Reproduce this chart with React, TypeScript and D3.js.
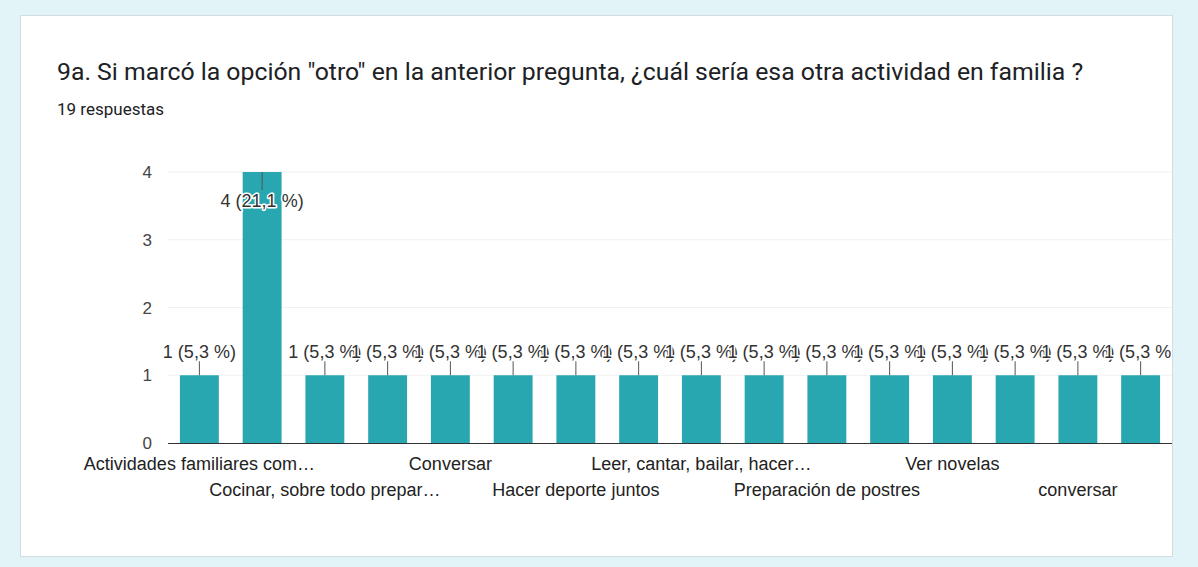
import React, { useEffect, useRef } from "react";
import * as d3 from "d3";

const categories: string[] = [
  "Actividades familiares comunitarias",
  "Cocinar",
  "Cocinar, sobre todo preparar postres",
  "Compartir juegos de mesa",
  "Conversar",
  "Hacer aseo juntos",
  "Hacer deporte juntos",
  "Jugar",
  "Leer, cantar, bailar, hacer manualidades",
  "Manualidades",
  "Preparación de postres",
  "Salir a caminar",
  "Ver novelas",
  "Ver películas",
  "conversar",
  "jugar",
];
const counts: number[] = [1, 4, 1, 1, 1, 1, 1, 1, 1, 1, 1, 1, 1, 1, 1, 1];
const totalResponses = 19;
const yTicks: number[] = [0, 1, 2, 3, 4];
const title =
  '9a. Si marcó la opción "otro" en la anterior pregunta, ¿cuál sería esa otra actividad en familia ?';
const subtitle = "19 respuestas";

const W = 1198;
const H = 567;

export default function App() {
  const ref = useRef<SVGSVGElement>(null);

  useEffect(() => {
    const svg = d3.select(ref.current!);
    svg.selectAll("*").remove();

    svg.append("rect").attr("width", W).attr("height", H).attr("fill", "#e2f4f7");
    svg
      .append("rect")
      .attr("x", 20.5)
      .attr("y", 15.5)
      .attr("width", 1152)
      .attr("height", 541)
      .attr("fill", "#ffffff")
      .attr("stroke", "#d3dde0");

    svg
      .append("text")
      .attr("x", 57)
      .attr("y", 80)
      .attr("font-family", "Roboto")
      .attr("font-size", 24.8)
      .attr("fill", "#202124")
      .text(title);
    svg
      .append("text")
      .attr("x", 57)
      .attr("y", 115)
      .attr("font-family", "Roboto")
      .attr("font-size", 17)
      .attr("fill", "#202124")
      .text(subtitle);

    const left = 168;
    const right = 1172;
    const top = 172;
    const bottom = 443;

    const x = d3
      .scaleBand<string>()
      .domain(categories)
      .range([left, right])
      .paddingInner(0.38)
      .paddingOuter(0.19);
    const y = d3.scaleLinear().domain([0, 4]).range([bottom, top]);

    const g = svg.append("g");
    const font = "'Liberation Sans', Arial, sans-serif";
    const fs = 18;

    g.selectAll("line.grid")
      .data(yTicks.filter((t) => t > 0))
      .enter()
      .append("line")
      .attr("x1", left)
      .attr("x2", right)
      .attr("y1", (d) => y(d))
      .attr("y2", (d) => y(d))
      .attr("stroke", "#f1f1f1");

    g.selectAll("text.ytick")
      .data(yTicks)
      .enter()
      .append("text")
      .attr("x", 152)
      .attr("y", (d) => y(d) + 6)
      .attr("text-anchor", "end")
      .attr("font-family", font)
      .attr("font-size", 17)
      .attr("fill", "#444")
      .text((d) => String(d));

    g.selectAll("rect.bar")
      .data(categories)
      .enter()
      .append("rect")
      .attr("x", (d) => x(d)!)
      .attr("width", x.bandwidth())
      .attr("y", (d, i) => y(counts[i]))
      .attr("height", (d, i) => bottom - y(counts[i]))
      .attr("fill", "#28a7b0");

    g.append("line")
      .attr("x1", left)
      .attr("x2", right)
      .attr("y1", bottom + 0.5)
      .attr("y2", bottom + 0.5)
      .attr("stroke", "#333");

    const defs = svg.append("defs");
    defs
      .append("clipPath")
      .attr("id", "plotclip")
      .append("rect")
      .attr("x", 0)
      .attr("y", 0)
      .attr("width", right - 1)
      .attr("height", H);

    const ann = g.append("g").attr("clip-path", "url(#plotclip)");
    categories.forEach((c, i) => {
      const cx = x(c)! + x.bandwidth() / 2;
      const v = counts[i];
      const barTop = y(v);
      const inside = v === 4;
      const labelY = inside ? barTop + 35 : barTop - 17;
      const pct = ((v / totalResponses) * 100).toFixed(1).replace(".", ",");
      ann
        .append("line")
        .attr("x1", cx)
        .attr("x2", cx)
        .attr("y1", inside ? barTop : barTop - 14)
        .attr("y2", inside ? barTop + 18 : barTop)
        .attr("stroke", "#555")
        .attr("stroke-width", 1);
      ann
        .append("text")
        .attr("x", cx)
        .attr("y", labelY)
        .attr("text-anchor", "middle")
        .attr("font-family", font)
        .attr("font-size", fs)
        .attr("fill", "#333")
        .attr("stroke", "#ffffff")
        .attr("stroke-width", 3)
        .attr("stroke-linejoin", "round")
        .attr("paint-order", "stroke")
        .text(`${v} (${pct} %)`);
    });

    const maxW = 236;
    categories.forEach((c, i) => {
      if (i % 2 !== 0) return;
      const cx = x(c)! + x.bandwidth() / 2;
      const row = (i / 2) % 2;
      const t = g
        .append("text")
        .attr("x", cx)
        .attr("y", row === 0 ? 470 : 496)
        .attr("text-anchor", "middle")
        .attr("font-family", font)
        .attr("font-size", fs)
        .attr("fill", "#222")
        .text(c);
      const node = t.node() as SVGTextElement;
      if (node.getComputedTextLength() > maxW) {
        let n = c.length;
        while (n > 1) {
          n--;
          const s = c.slice(0, n).trimEnd() + "…";
          t.text(s);
          if (node.getComputedTextLength() <= maxW) break;
        }
      }
    });
  }, []);

  return (
    <svg
      ref={ref}
      width={W}
      height={H}
      style={{ position: "absolute", left: 0, top: 0, display: "block" }}
    />
  );
}
